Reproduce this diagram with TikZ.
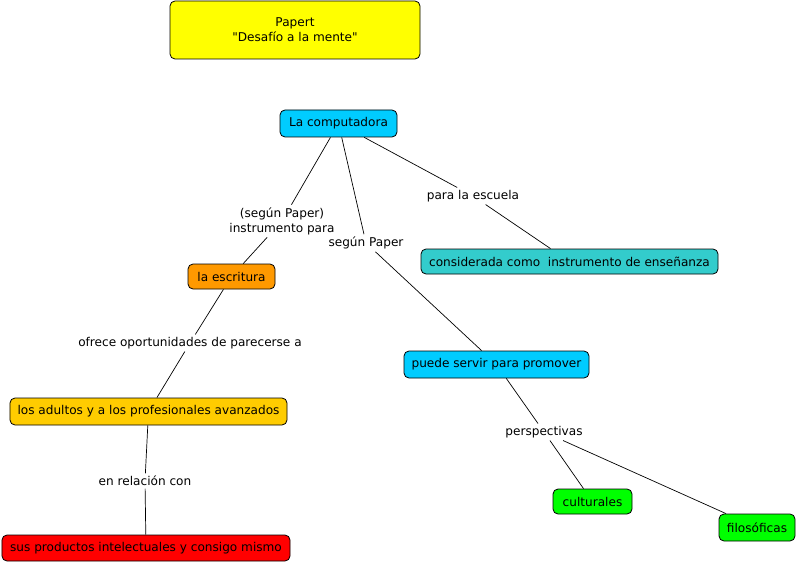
\documentclass[tikz,border=0pt]{standalone}
\usepackage{fontspec}
\setmainfont{DejaVu Sans}
\newfontfamily\plainfont{DejaVu Sans}
\definecolor{cyell}{HTML}{FFFF00}
\definecolor{ccyan}{HTML}{00CCFF}
\definecolor{cteal}{HTML}{33CCCC}
\definecolor{corange}{HTML}{FF9900}
\definecolor{cgold}{HTML}{FFCC00}
\definecolor{cred}{HTML}{FF0000}
\definecolor{cgreen}{HTML}{00FF00}
\begin{document}
\begin{tikzpicture}[x=1bp,y=-1bp,
  box/.style={draw=black,line width=0.8bp,rounded corners=5bp,inner sep=0pt,
    font=\plainfont\fontsize{12.1bp}{15bp}\selectfont,align=center},
  lab/.style={inner sep=2.5bp,font=\plainfont\fontsize{12.1bp}{15bp}\selectfont,align=center},
  conn/.style={line width=0.7bp,black}]
\useasboundingbox[fill=white] (0,0) rectangle (797,565);

\node[box,fill=cyell,minimum width=250bp,minimum height=58bp] (papert) at (295,30) {Papert\\"Desafío a la mente"};
\node[box,fill=ccyan,minimum width=117bp,minimum height=27bp] (comp) at (338.5,123.5) {La computadora};
\node[box,fill=corange,minimum width=87bp,minimum height=25bp] (escr) at (231.5,276.5) {la escritura};
\node[box,fill=cteal,minimum width=297bp,minimum height=25bp] (cons) at (569.5,261.5) {considerada como\ \ instrumento de enseñanza};
\node[box,fill=ccyan,minimum width=185bp,minimum height=27bp] (puede) at (496.5,364.5) {puede servir para promover};
\node[box,fill=cgold,minimum width=277bp,minimum height=27bp] (adul) at (148.5,411.5) {los adultos y a los profesionales avanzados};
\node[box,fill=cred,minimum width=288bp,minimum height=26bp] (sus) at (146,548) {sus productos intelectuales y consigo mismo};
\node[box,fill=cgreen,minimum width=79bp,minimum height=25bp] (cult) at (592.5,501.5) {culturales};
\node[box,fill=cgreen,minimum width=76bp,minimum height=27bp] (filo) at (757,527.5) {filosóficas};

\node[lab] (l1) at (282,221) {(según Paper)\\instrumento para};
\node[lab] (l2) at (366,243) {según Paper};
\node[lab] (l3) at (473,196) {para la escuela};
\node[lab] (l4) at (190,343) {ofrece oportunidades de parecerse a};
\node[lab] (l5) at (145,481) {en relación con};
\node[lab] (l6) at (544,432) {perspectivas};

\draw[conn] (comp) -- (l1) -- (escr);
\draw[conn] (comp) -- (l2) -- (puede);
\draw[conn] (comp) -- (l3) -- (cons);
\draw[conn] (escr) -- (l4) -- (adul);
\draw[conn] (adul) -- (l5) -- (sus);
\draw[conn] (puede) -- (l6);
\draw[conn] (l6) -- (cult);
\draw[conn] (l6) -- (filo);
\end{tikzpicture}
\end{document}
